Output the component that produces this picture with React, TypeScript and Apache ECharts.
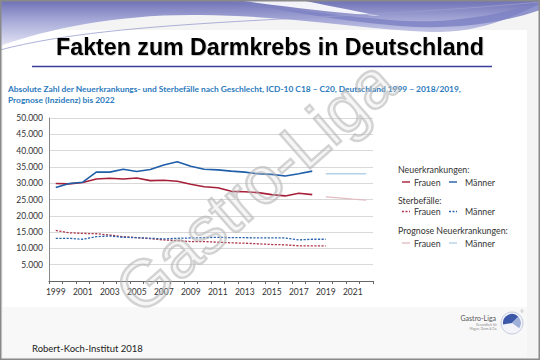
import React, { useEffect, useRef } from "react";
import * as echarts from "echarts";

const years = ["1999","2000","2001","2002","2003","2004","2005","2006","2007","2008","2009","2010","2011","2012","2013","2014","2015","2016","2017","2018","2019","2020","2021","2022"];
const yTicks = [0, 5000, 10000, 15000, 20000, 25000, 30000, 35000, 40000, 45000, 50000];

// Neuerkrankungen 1999–2018
const incWomen = [29900, 29800, 30200, 31300, 31500, 31300, 31600, 30800, 30900, 30600, 29700, 28900, 28600, 27500, 27400, 27100, 26500, 26100, 26900, 26500];
const incMen = [28700, 29900, 30300, 33400, 33400, 34300, 33600, 34200, 35600, 36600, 35200, 34300, 34100, 33700, 33400, 32900, 32700, 32200, 32900, 33700];
// Sterbefälle 1999–2019
const deathWomen = [15500, 14800, 14600, 14500, 14100, 13600, 13300, 13000, 12600, 12400, 12100, 12100, 11900, 11700, 11600, 11400, 11200, 11100, 10800, 10800, 10800];
const deathMen = [13100, 13100, 12800, 13600, 13800, 13400, 13300, 13100, 12900, 13100, 13200, 13300, 13400, 13300, 13300, 13200, 13200, 13200, 12600, 12800, 12800];
// Prognose 2019–2022
const progWomen = [25800, 25500, 25100, 24800];
const progMen = [32900, 32900, 32900, 32900];

const pad = (arr: number[], start: number) =>
  years.map((_, i) => (i >= start && i - start < arr.length ? arr[i - start] : null));

const C_RED = "#a6203a";
const C_BLUE = "#1f5ea8";
const C_RED_D = "#b0364c";
const C_BLUE_D = "#2a64b0";
const C_RED_P = "#e2bcc3";
const C_BLUE_P = "#b4d2ea";

let registered = false;
function registerShapes() {
  if (registered) return;
  registered = true;
  echarts.graphic.registerShape(
    "hdrBand",
    echarts.graphic.extendPath(
      "M0 0 H540 V4 C515 16 480 32 440 32 C380 32 300 16 200 15 C120 14 50 28 0 46 Z",
      {}
    )
  );
  echarts.graphic.registerShape(
    "hdrSwoosh",
    echarts.graphic.extendPath(
      "M228 0 C270 6 320 14 390 20 C440 24 490 18 540 2 V10 C500 24 450 30 400 26 C330 20 270 8 228 0 Z",
      {}
    )
  );
  echarts.graphic.registerShape(
    "hdrHighlight",
    echarts.graphic.extendPath(
      "M236 0 H300 C320 4 350 10 380 16 C330 12 280 6 236 0 Z",
      {}
    )
  );
}

export default function App() {
  const ref = useRef<HTMLDivElement>(null);
  useEffect(() => {
    if (!ref.current) return;
    registerShapes();
    const chart = echarts.init(ref.current, undefined, { renderer: "svg" });
    const font = "Lato";
    const legendX = 398;
    const legendRow = (y: number, cF: string, cM: string, dashed: boolean) => [
      {
        type: "line",
        shape: { x1: 402, y1: y, x2: 410, y2: y },
        style: { stroke: cF, lineWidth: 1.4, lineDash: dashed ? [2, 1.5] : null },
      },
      { type: "text", x: 414, y, style: { text: "Frauen", fontSize: 8.8, fontFamily: font, fill: "#333", verticalAlign: "middle" } },
      {
        type: "line",
        shape: { x1: 449, y1: y, x2: 457, y2: y },
        style: { stroke: cM, lineWidth: 1.4, lineDash: dashed ? [2, 1.5] : null },
      },
      { type: "text", x: 465, y, style: { text: "Männer", fontSize: 8.8, fontFamily: font, fill: "#333", verticalAlign: "middle" } },
    ];
    const lineSeries = (name: string, data: (number | null)[], color: string, dashed: boolean, width = 1.6) => ({
      name,
      type: "line",
      data,
      symbol: "none",
      connectNulls: false,
      lineStyle: { color, width, type: dashed ? [2.2, 1.4] : "solid" },
      itemStyle: { color },
      z: 3,
    });
    chart.setOption({
      animation: false,
      backgroundColor: "#f4f4f4",
      grid: { left: 49, right: 167, top: 118, bottom: 79, containLabel: false },
      xAxis: {
        type: "category",
        data: years,
        boundaryGap: true,
        axisLine: { show: true, lineStyle: { color: "#666", width: 1 } },
        axisTick: { show: true, interval: 0, length: 3, lineStyle: { color: "#666" } },
        axisLabel: { interval: 1, color: "#333", fontSize: 8.5, fontFamily: font, margin: 6 },
        splitLine: { show: false },
      },
      yAxis: {
        type: "value",
        min: 0,
        max: 50000,
        interval: 5000,
        axisLine: { show: true, lineStyle: { color: "#888", width: 1 } },
        axisTick: { show: false },
        axisLabel: {
          color: "#333",
          fontSize: 8.5,
          fontFamily: font,
          margin: 6,
          formatter: (v: number) => (v === 0 || !yTicks.includes(v) ? "" : `${v / 1000}.000`),
        },
        splitLine: { show: true, lineStyle: { color: "#d9d9d9", width: 1 } },
      },
      series: [
        lineSeries("Neuerkrankungen Frauen", pad(incWomen, 0), C_RED, false),
        lineSeries("Neuerkrankungen Männer", pad(incMen, 0), C_BLUE, false),
        lineSeries("Sterbefälle Frauen", pad(deathWomen, 0), C_RED_D, true, 1.3),
        lineSeries("Sterbefälle Männer", pad(deathMen, 0), C_BLUE_D, true, 1.3),
        lineSeries("Prognose Frauen", pad(progWomen, 20), C_RED_P, false, 1.3),
        lineSeries("Prognose Männer", pad(progMen, 20), C_BLUE_P, false, 1.6),
      ],
      graphic: [
        // slide panels
        { type: "rect", z: -10, shape: { x: 3, y: 30, width: 524, height: 277 }, style: { fill: "#ffffff" } },
        { type: "rect", z: -10, shape: { x: 3, y: 307, width: 524, height: 50 }, style: { fill: "#f8f8f8" } },
        // header
        {
          type: "hdrBand",
          z: -5,
          x: 0,
          y: 0,
          style: {
            fill: new echarts.graphic.LinearGradient(0, 0, 0, 1, [
              { offset: 0, color: "#6d70b4" },
              { offset: 0.45, color: "#a7aad8" },
              { offset: 1, color: "#e3e4f4" },
            ]),
          },
        },
        { type: "hdrSwoosh", z: -4, x: 0, y: 0, style: { fill: "#7e82c4", opacity: 0.85 } },
        { type: "hdrHighlight", z: -4, x: 0, y: 0, style: { fill: "#ffffff", opacity: 0.9 } },
        {
          type: "bezierCurve",
          z: -3,
          shape: { x1: 0, y1: 50, cpx1: 120, cpy1: 18, cpx2: 330, cpy2: 22, x2: 540, y2: 2 },
          style: { stroke: "#9a9dcf", lineWidth: 0.8, fill: null },
        },
        // frame
        { type: "rect", z: 50, shape: { x: 0.75, y: 0.75, width: 538.5, height: 358.5 }, style: { fill: null, stroke: "#8a8a8a", lineWidth: 1.5 } },
        // title
        {
          type: "text",
          x: 270,
          y: 47,
          style: {
            text: "Fakten zum Darmkrebs in Deutschland",
            fontSize: 23.2,
            fontWeight: "bold",
            fontFamily: "Liberation Sans",
            fill: "#000",
            align: "center",
            verticalAlign: "middle",
            textShadowColor: "rgba(0,0,0,0.25)",
            textShadowBlur: 1,
            textShadowOffsetX: 0.8,
            textShadowOffsetY: 0.8,
          },
        },
        { type: "line", shape: { x1: 32, y1: 66.5, x2: 492, y2: 66.5 }, style: { stroke: "#3b3f9c", lineWidth: 1.3 } },
        // subtitle
        {
          type: "text",
          x: 8,
          y: 89,
          style: {
            text: "Absolute Zahl der Neuerkrankungs- und Sterbefälle nach Geschlecht, ICD-10 C18 – C20, Deutschland 1999 – 2018/2019,",
            fontSize: 8.4,
            fontWeight: "bold",
            fontFamily: font,
            fill: "#2b7abd",
            verticalAlign: "middle",
          },
        },
        {
          type: "text",
          x: 8,
          y: 99.5,
          style: { text: "Prognose (Inzidenz) bis 2022", fontSize: 8.4, fontWeight: "bold", fontFamily: font, fill: "#2b7abd", verticalAlign: "middle" },
        },
        // legend
        { type: "text", x: legendX, y: 169.5, style: { text: "Neuerkrankungen:", fontSize: 8.8, fontFamily: font, fill: "#333", verticalAlign: "middle" } },
        ...legendRow(182, C_RED, C_BLUE, false),
        { type: "text", x: legendX, y: 200, style: { text: "Sterbefälle:", fontSize: 8.8, fontFamily: font, fill: "#333", verticalAlign: "middle" } },
        ...legendRow(211.5, C_RED_D, C_BLUE_D, true),
        { type: "text", x: legendX, y: 230, style: { text: "Prognose Neuerkrankungen:", fontSize: 8.8, fontFamily: font, fill: "#333", verticalAlign: "middle" } },
        ...legendRow(243, C_RED_P, C_BLUE_P, false),
        // footer
        { type: "text", x: 32, y: 348, style: { text: "Robert-Koch-Institut 2018", fontSize: 9.5, fontFamily: font, fill: "#222", verticalAlign: "middle" } },
        // logo
        { type: "text", x: 496, y: 318, style: { text: "Gastro-Liga", fontSize: 7, fontFamily: font, fill: "#555", align: "right", verticalAlign: "middle" } },
        { type: "text", x: 497, y: 325, style: { text: "Gesundheit für", fontSize: 3.2, fontFamily: font, fill: "#888", align: "right", verticalAlign: "middle" } },
        { type: "text", x: 497, y: 329, style: { text: "Magen, Darm & Co.", fontSize: 3.2, fontFamily: font, fill: "#888", align: "right", verticalAlign: "middle" } },
        { type: "circle", shape: { cx: 512, cy: 323, r: 11 }, style: { fill: "#f2f4fa", stroke: "#c5cbe0", lineWidth: 1 } },
        { type: "sector", shape: { cx: 512, cy: 323, r: 9, r0: 0, startAngle: Math.PI * 0.95, endAngle: Math.PI * 1.75 }, style: { fill: "#3c58a8" } },
        { type: "sector", shape: { cx: 512, cy: 323, r: 9, r0: 0, startAngle: Math.PI * 1.75, endAngle: Math.PI * 2.2 }, style: { fill: "#9fb0d8" } },
        { type: "circle", shape: { cx: 522, cy: 311, r: 1.2 }, style: { fill: null, stroke: "#999", lineWidth: 0.5 } },
        // watermark
        {
          type: "text",
          z: 100,
          x: 255,
          y: 186,
          rotation: 0.72,
          originX: 0,
          originY: 0,
          style: {
            text: "Gastro-Liga",
            fontSize: 66,
            fontFamily: "Liberation Sans",
            fill: "rgba(210,210,210,0.2)",
            stroke: "rgba(175,175,175,0.55)",
            lineWidth: 2.4,
            align: "center",
            verticalAlign: "middle",
          },
        },
      ],
    });
    return () => chart.dispose();
  }, []);
  return <div ref={ref} style={{ position: "fixed", left: 0, top: 0, width: 540, height: 360 }} />;
}
